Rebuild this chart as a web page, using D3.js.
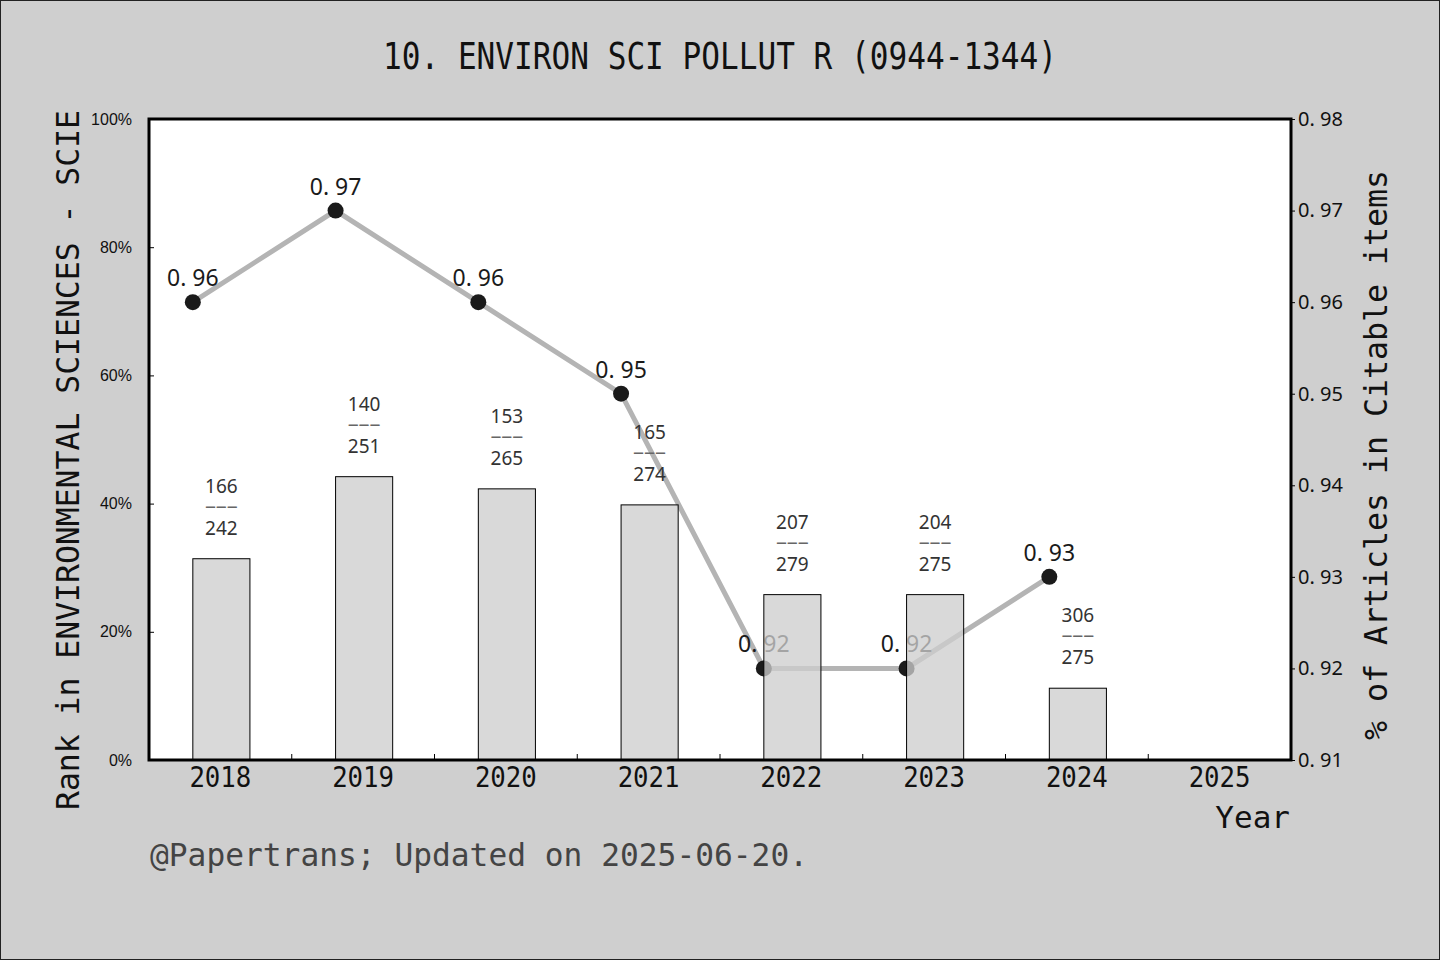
<!DOCTYPE html>
<html>
<head>
<meta charset="utf-8">
<script src="https://cdn.jsdelivr.net/npm/d3@7"></script>
<style>
  body { margin: 0; background: #cfcfcf; }
  svg { display: block; }
</style>
</head>
<body>
<div id="chart"></div>
<script>
// данные с картинки
const years = ["2018", "2019", "2020", "2021", "2022", "2023", "2024", "2025"];
const barYears = ["2018", "2019", "2020", "2021", "2022", "2023", "2024"];
const rankPct = [31.4, 44.2, 42.3, 39.8, 25.8, 25.8, 11.2];
const ranks = [166, 140, 153, 165, 207, 204, 306];
const totals = [242, 251, 265, 274, 279, 275, 275];
const citable = [0.96, 0.97, 0.96, 0.95, 0.92, 0.92, 0.93];
const leftTicks = [0, 20, 40, 60, 80, 100];
const rightTicks = [0.91, 0.92, 0.93, 0.94, 0.95, 0.96, 0.97, 0.98];

const W = 1440, H = 960;
const plot = {left: 149, right: 1291, top: 119, bottom: 760};
const mono = "'DejaVu Sans Mono', monospace";
const sans = "'Noto Sans', 'Liberation Sans', sans-serif";

const svg = d3.select("#chart").append("svg")
    .attr("width", W)
    .attr("height", H);

svg.append("rect")
    .attr("x", 0.5).attr("y", 0.5)
    .attr("width", W - 1).attr("height", H - 1)
    .style("fill", "#cfcfcf")
    .style("stroke", "#222");

svg.append("rect")
    .attr("x", plot.left).attr("y", plot.top)
    .attr("width", plot.right - plot.left)
    .attr("height", plot.bottom - plot.top)
    .style("fill", "#fff");

// шкалы
const x = d3.scaleBand().domain(years).range([plot.left, plot.right]).padding(0);
const yL = d3.scaleLinear().domain([0, 100]).range([plot.bottom, plot.top]);
const yR = d3.scaleLinear().domain([0.91, 0.98]).range([plot.bottom, plot.top]);
const barW = x.bandwidth() * 0.4;
const cx = d => x(d) + x.bandwidth() / 2 + 1;
const px = d => cx(d) - barW / 2;

// линия
const line = d3.line()
    .x((d, i) => px(barYears[i]))
    .y(d => yR(d));

svg.append("path")
    .attr("d", line(citable))
    .style("fill", "none")
    .style("stroke", "#b4b4b4")
    .style("stroke-width", 5);

svg.selectAll("circle.pt").data(citable).enter().append("circle")
    .attr("class", "pt")
    .attr("cx", (d, i) => px(barYears[i]))
    .attr("cy", d => yR(d))
    .attr("r", 8)
    .style("fill", "#1a1a1a");

svg.selectAll("text.ptlab").data(citable).enter().append("text")
    .attr("class", "ptlab")
    .attr("x", (d, i) => px(barYears[i]))
    .attr("y", d => yR(d) - 16)
    .attr("text-anchor", "middle")
    .style("font-family", sans)
    .style("font-size", "23px")
    .style("fill", "#1a1a1a")
    .text(d => d3.format(".2f")(d).replace(".", ". "));

// столбики (полупрозрачные, поверх линии)
svg.selectAll("rect.bar").data(rankPct).enter().append("rect")
    .attr("class", "bar")
    .attr("x", (d, i) => cx(barYears[i]) - barW / 2)
    .attr("y", d => yL(d))
    .attr("width", barW)
    .attr("height", d => yL(0) - yL(d))
    .style("fill", "rgba(206,206,206,0.77)")
    .style("stroke", "#000")
    .style("stroke-width", 1);

// подписи рангов
const lab = svg.selectAll("g.ratio").data(rankPct).enter().append("g")
    .attr("class", "ratio")
    .attr("transform", (d, i) => "translate(" + cx(barYears[i]) + "," + yL(d) + ")")
    .style("font-family", sans)
    .style("font-size", "19px")
    .attr("text-anchor", "middle");
lab.append("text").attr("y", -66).style("fill", "#333").text((d, i) => ranks[i]);
lab.append("text").attr("y", -46)
    .style("fill", "#666")
    .attr("textLength", 33)
    .attr("lengthAdjust", "spacingAndGlyphs")
    .text("\u2013\u2013\u2013");
lab.append("text").attr("y", -24).style("fill", "#333").text((d, i) => totals[i]);

// оси
const axisL = svg.append("g").attr("transform", "translate(" + plot.left + ",0)")
    .call(d3.axisLeft(yL).tickValues(leftTicks).tickSize(-5).tickPadding(17).tickFormat(d => d + "%"));
axisL.selectAll("text").style("font-family", "'Liberation Sans', sans-serif").style("font-size", "16px").style("fill", "#111");

const axisR = svg.append("g").attr("transform", "translate(" + plot.right + ",0)")
    .call(d3.axisRight(yR).tickValues(rightTicks).tickSize(4).tickPadding(3)
      .tickFormat(d => d3.format(".2f")(d).replace(".", ". ")));
axisR.selectAll("text").style("font-family", sans).style("font-size", "20px").style("fill", "#111");

const axisB = svg.append("g").attr("transform", "translate(0," + plot.bottom + ")")
    .call(d3.axisBottom(x).tickSize(0).tickPadding(6));
axisB.selectAll("text")
    .style("font-family", mono).style("font-size", "29px").style("fill", "#111")
    .attr("textLength", 62).attr("lengthAdjust", "spacingAndGlyphs");

// мелкие риски между годами
svg.selectAll("line.minor").data(years.slice(1)).enter().append("line")
    .attr("class", "minor")
    .attr("x1", d => x(d)).attr("x2", d => x(d))
    .attr("y1", plot.bottom).attr("y2", plot.bottom - 6)
    .style("stroke", "#000");

svg.selectAll(".domain").remove();

svg.append("rect")
    .attr("x", plot.left).attr("y", plot.top)
    .attr("width", plot.right - plot.left)
    .attr("height", plot.bottom - plot.top)
    .style("fill", "none")
    .style("stroke", "#000")
    .style("stroke-width", 3);

// заголовки
svg.append("text")
    .attr("x", 720).attr("y", 69)
    .attr("text-anchor", "middle")
    .style("font-family", mono)
    .style("font-size", "37px")
    .style("fill", "#111")
    .attr("textLength", 674)
    .attr("lengthAdjust", "spacingAndGlyphs")
    .text("10. ENVIRON SCI POLLUT R (0944-1344)");

svg.append("text")
    .attr("transform", "translate(79,460) rotate(-90)")
    .attr("text-anchor", "middle")
    .style("font-family", mono)
    .style("font-size", "32px")
    .style("fill", "#111")
    .attr("textLength", 700)
    .attr("lengthAdjust", "spacingAndGlyphs")
    .text("Rank in ENVIRONMENTAL SCIENCES - SCIE");

svg.append("text")
    .attr("transform", "translate(1387,455) rotate(-90)")
    .attr("text-anchor", "middle")
    .style("font-family", mono)
    .style("font-size", "32px")
    .style("fill", "#111")
    .attr("textLength", 570)
    .attr("lengthAdjust", "spacingAndGlyphs")
    .text("% of Articles in Citable items");

svg.append("text")
    .attr("x", 1290).attr("y", 828)
    .attr("text-anchor", "end")
    .style("font-family", mono)
    .style("font-size", "31px")
    .style("fill", "#111")
    .text("Year");

svg.append("text")
    .attr("x", 150).attr("y", 866)
    .style("font-family", mono)
    .style("font-size", "32px")
    .style("fill", "#444")
    .attr("textLength", 658)
    .attr("lengthAdjust", "spacingAndGlyphs")
    .text("@Papertrans; Updated on 2025-06-20.");
</script>
</body>
</html>
